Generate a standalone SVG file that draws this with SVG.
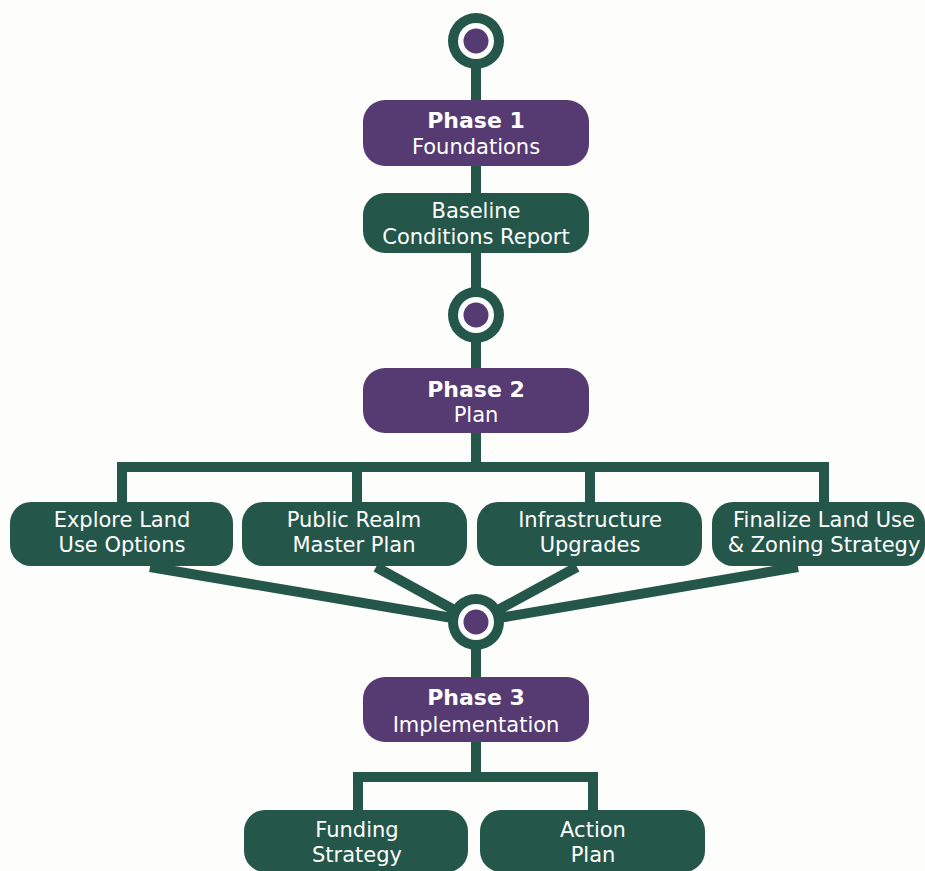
<svg xmlns="http://www.w3.org/2000/svg" width="925" height="871" viewBox="0 0 925 871">
<style>
.g{fill:#24564a}
.p{fill:#563a72}
.ln{stroke:#24564a;stroke-width:10;fill:none;stroke-linejoin:miter}
text{font-family:"DejaVu Sans","Liberation Sans",sans-serif;fill:#ffffff;text-anchor:middle}
.t{font-size:21px}
.b{font-size:22px;font-weight:bold}
</style>
<defs>
<g id="hub">
<circle r="28" fill="#24564a"/>
<circle r="18" fill="#fdfdfb"/>
<circle r="12.5" fill="#563a72"/>
</g>
</defs>
<rect width="925" height="871" fill="#fdfdfb"/>
<g id="connectors">
<path class="ln" d="M476,42 V467"/>
<path class="ln" d="M122,505 V467 H824 V505"/>
<path class="ln" d="M357,467 V505 M590,467 V505"/>
<path class="ln" d="M150,567 L476,622 M376,567 L476,622 M577,567 L476,622 M798,567 L476,622"/>
<path class="ln" d="M476,622 V777"/>
<path class="ln" d="M358,812 V777 H593 V812"/>
</g>
<g id="start"><use href="#hub" x="476" y="41"/></g>
<g id="phase1">
<rect class="p" x="363" y="100" width="226" height="66" rx="22"/>
<text class="b" x="476" y="128">Phase 1</text>
<text class="t" x="476" y="154">Foundations</text>
</g>
<g id="baseline">
<rect class="g" x="363" y="193" width="226" height="60" rx="22"/>
<text class="t" x="476" y="218">Baseline</text>
<text class="t" x="476" y="244">Conditions Report</text>
</g>
<g id="milestone1"><use href="#hub" x="476" y="315"/></g>
<g id="phase2">
<rect class="p" x="363" y="368" width="226" height="65" rx="22"/>
<text class="b" x="476" y="397">Phase 2</text>
<text class="t" x="476" y="422">Plan</text>
</g>
<g id="explore">
<rect class="g" x="10" y="502" width="223" height="64" rx="21"/>
<text class="t" x="122" y="527">Explore Land</text>
<text class="t" x="122" y="552">Use Options</text>
</g>
<g id="public">
<rect class="g" x="242" y="502" width="225" height="64" rx="21"/>
<text class="t" x="354" y="527">Public Realm</text>
<text class="t" x="354" y="552">Master Plan</text>
</g>
<g id="infra">
<rect class="g" x="477" y="502" width="225" height="64" rx="21"/>
<text class="t" x="590" y="527">Infrastructure</text>
<text class="t" x="590" y="552">Upgrades</text>
</g>
<g id="finalize">
<rect class="g" x="712" y="502" width="213" height="64" rx="21"/>
<text class="t" x="824" y="527">Finalize Land Use</text>
<text class="t" x="824" y="552">&amp; Zoning Strategy</text>
</g>
<g id="milestone2"><use href="#hub" x="476" y="622"/></g>
<g id="phase3">
<rect class="p" x="363" y="677" width="226" height="65" rx="22"/>
<text class="b" x="476" y="705">Phase 3</text>
<text class="t" x="476" y="732">Implementation</text>
</g>
<g id="funding">
<rect class="g" x="244" y="810" width="224" height="62" rx="21"/>
<text class="t" x="357" y="837">Funding</text>
<text class="t" x="357" y="862">Strategy</text>
</g>
<g id="action">
<rect class="g" x="480" y="810" width="225" height="62" rx="21"/>
<text class="t" x="593" y="837">Action</text>
<text class="t" x="593" y="862">Plan</text>
</g>
</svg>
